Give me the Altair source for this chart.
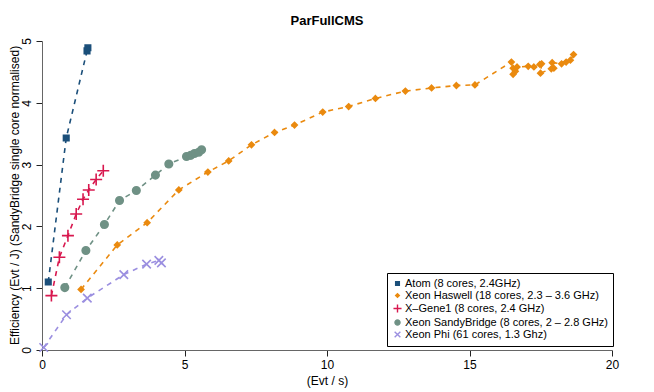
import altair as alt
import pandas as pd

series_names = [
    "Atom (8 cores, 2.4GHz)",
    "Xeon Haswell (18 cores, 2.3 – 3.6 GHz)",
    "X–Gene1 (8 cores, 2.4 GHz)",
    "Xeon SandyBridge (8 cores, 2 – 2.8 GHz)",
    "Xeon Phi (61 cores, 1.3 Ghz)",
]
colors = ["#1b4f7a", "#ea8a0f", "#d8184f", "#6f9185", "#9b8fe0"]

atom_x = [0.22, 0.85, 1.58, 1.61]
atom_y = [1.10, 3.43, 4.84, 4.89]

haswell_x = [1.37, 2.64, 3.69, 4.80, 5.82, 6.55, 7.35, 8.16, 8.86, 9.85, 10.76, 11.70,
             12.75, 13.67, 14.54, 15.19, 16.47, 16.53, 16.61, 16.53, 16.67, 17.06, 17.26,
             17.47, 17.53, 17.49, 17.87, 17.96, 17.90, 18.23, 18.39, 18.54, 18.65]
haswell_y = [0.98, 1.70, 2.06, 2.59, 2.88, 3.06, 3.32, 3.52, 3.64, 3.85, 3.94, 4.07,
             4.19, 4.24, 4.28, 4.29, 4.66, 4.56, 4.51, 4.46, 4.58, 4.59, 4.58,
             4.62, 4.63, 4.48, 4.55, 4.56, 4.65, 4.63, 4.66, 4.69, 4.78]

xgene_x = [0.33, 0.61, 0.91, 1.20, 1.44, 1.64, 1.90, 2.15]
xgene_y = [0.88, 1.50, 1.85, 2.20, 2.44, 2.59, 2.76, 2.90]

sandy_x = [0.80, 1.54, 2.19, 2.72, 3.31, 3.98, 4.45, 5.07, 5.22, 5.35, 5.50, 5.60]
sandy_y = [1.01, 1.61, 2.03, 2.42, 2.58, 2.83, 3.01, 3.13, 3.15, 3.18, 3.20, 3.24]

phi_x = [0.06, 0.86, 1.59, 2.87, 3.67, 4.10, 4.19]
phi_y = [0.04, 0.57, 0.84, 1.22, 1.39, 1.45, 1.41]

all_x = [atom_x, haswell_x, xgene_x, sandy_x, phi_x]
all_y = [atom_y, haswell_y, xgene_y, sandy_y, phi_y]

rows = []
for name, xs_, ys_ in zip(series_names, all_x, all_y):
    for i, (xv, yv) in enumerate(zip(xs_, ys_)):
        rows.append({"series": name, "x": xv, "y": yv, "idx": i})
df = pd.DataFrame(rows)

# symbol paths (unit = 5px at size 100)
sq = "M-0.55,-0.55L0.55,-0.55L0.55,0.55L-0.55,0.55Z"
dia = "M0,-0.55L0.55,0L0,0.55L-0.55,0Z"
plus = "M-1.2,0L1.2,0M0,-1.2L0,1.2"
circ = "M-0.75,0A0.75,0.75,0,1,1,0.75,0A0.75,0.75,0,1,1,-0.75,0Z"
cross = "M-0.85,-0.85L0.85,0.85M-0.85,0.85L0.85,-0.85"
shapes = [sq, dia, plus, circ, cross]

FONT = "Liberation Sans"

xs = alt.X("x:Q", scale=alt.Scale(domain=[0, 20], nice=False, zero=False),
           axis=alt.Axis(title="(Evt / s)", values=[0, 5, 10, 15, 20], grid=False,
                         tickSize=6, labelPadding=3, titlePadding=5,
                         domainColor="#666", tickColor="#222",
                         labelFontSize=12, titleFontSize=12, titleFontWeight="normal",
                         labelColor="#000", titleColor="#000", labelFlush=False))
ys = alt.Y("y:Q", scale=alt.Scale(domain=[0, 5], nice=False, zero=False),
           axis=alt.Axis(title="Efficiency (Evt / J) (SandyBridge single core normalised)",
                         values=[0, 1, 2, 3, 4, 5], grid=False, tickSize=6,
                         labelAngle=270, labelAlign="center", labelBaseline="middle",
                         labelPadding=10,
                         titleX=-28, titleY=154, titleAngle=270, titleAlign="center",
                         titleBaseline="middle",
                         domainColor="#666", tickColor="#222",
                         labelFontSize=12, titleFontSize=12, titleFontWeight="normal",
                         labelColor="#000", titleColor="#000", labelFlush=False))

cscale = alt.Scale(domain=series_names, range=colors)

lines = alt.Chart(df).mark_line(strokeDash=[5, 5], strokeWidth=1.6, clip=False).encode(
    x=xs, y=ys,
    color=alt.Color("series:N", scale=cscale, legend=None),
    order="idx:Q",
)

legend = alt.Legend(title=None, orient="none", legendX=345, legendY=232,
                    strokeColor="black", fillColor="white", padding=5, rowPadding=0,
                    labelFontSize=11, labelFont=FONT, labelLimit=400, labelOffset=2,
                    symbolSize=45, symbolStrokeWidth=1.4, cornerRadius=0,
                    labelColor="#000")

points = alt.Chart(df).mark_point(filled=True, strokeWidth=1.6, opacity=1, size=100,
                                  clip=False).encode(
    x=xs, y=ys,
    color=alt.Color("series:N", scale=cscale, legend=legend),
    stroke=alt.Stroke("series:N", scale=cscale, legend=legend),
    shape=alt.Shape("series:N", scale=alt.Scale(domain=series_names, range=shapes), legend=legend),
)

chart = alt.layer(lines, points).resolve_legend(
    color="independent", stroke="independent", shape="independent"
).properties(
    width=570, height=309,
    title=alt.TitleParams("ParFullCMS", fontSize=13, fontWeight="bold", font=FONT,
                          anchor="middle", offset=10, color="#000"),
    autosize=alt.AutoSizeParams(type="none"),
    padding={"left": 34, "top": 33, "right": 34, "bottom": 42},
).configure(font=FONT).configure_view(stroke=None)

chart.save("out.html", embed_options={"renderer": "svg", "actions": False})
